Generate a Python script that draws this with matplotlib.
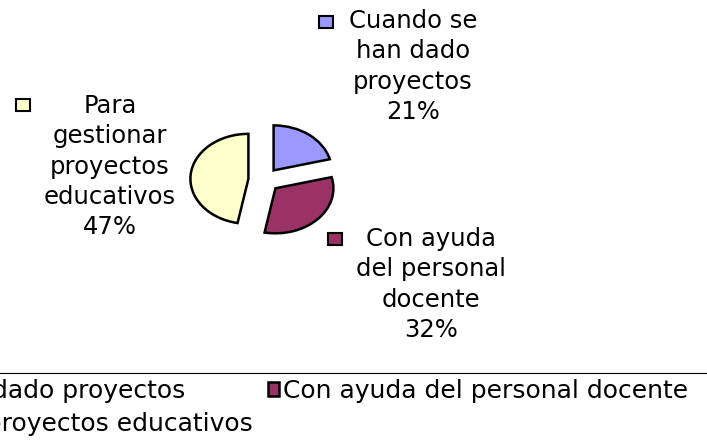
import matplotlib
matplotlib.use('Agg')
import matplotlib.pyplot as plt
from matplotlib.patches import Rectangle
from matplotlib.lines import Line2D

categorias = ["Cuando se han dado proyectos",
              "Con ayuda del personal docente",
              "Para gestionar proyectos educativos"]
etiquetas = ["Cuando se\nhan dado\nproyectos",
             "Con ayuda\ndel personal\ndocente",
             "Para\ngestionar\nproyectos\neducativos"]
porcentajes = [21, 32, 47]
colores = ["#9999FF", "#993366", "#FFFFCC"]

W, H = 707, 446
plt.rcParams['font.family'] = ['DejaVu Sans']

fig = plt.figure(figsize=(W / 100, H / 100), dpi=100)
ax = fig.add_axes([0, 0, 1, 1])
wedges, _ = ax.pie(porcentajes, colors=colores, explode=[0.27] * 3,
                   startangle=90, counterclock=False,
                   wedgeprops=dict(edgecolor='black', linewidth=1.8))

# el original esta estirado en horizontal: radio 58 px de ancho, 45 px de alto
cx, cy, rx, ry = 264, 180, 58, 45
ax.set_aspect('auto')
ax.set_xlim(-cx / rx, (W - cx) / rx)
ax.set_ylim(-(H - cy) / ry, cy / ry)
ax.axis('off')


def px(x, y):
    return x / W, 1 - y / H


# (centro texto x, borde superior y, centro cuadro x, centro cuadro y)
pos_etiquetas = [(413, 9, 326, 21.5), (431, 227, 335, 238.5), (110, 94, 23, 105)]
for etq, pct, col, (tx, ty, sx, sy) in zip(etiquetas, porcentajes, colores, pos_etiquetas):
    fig.text(*px(tx, ty), f"{etq}\n{pct}%", ha='center', va='top',
             multialignment='center', fontsize=17.5, linespacing=1.33)
    fig.add_artist(Rectangle(px(sx - 7, sy + 6), 14 / W, 12 / H,
                             transform=fig.transFigure, facecolor=col,
                             edgecolor='black', lw=1.5))

# leyenda inferior (cortada por los bordes, como en el original)
y_leg = 1 - 373 / H
orden = [0, 2, 1]
leg = fig.legend([wedges[i] for i in orden], [categorias[i] for i in orden],
                 ncol=2, loc='upper left', bbox_to_anchor=(0, y_leg),
                 borderaxespad=0, borderpad=0.25, frameon=False, fontsize=18,
                 handlelength=0.47, handleheight=0.47, handletextpad=0.15,
                 columnspacing=0.6, labelspacing=0.37)
fig.canvas.draw()
bb = leg.get_texts()[2].get_window_extent()
dx = 283 - bb.x0
leg.set_bbox_to_anchor((dx / W, y_leg), transform=fig.transFigure)
fig.add_artist(Line2D([0, 1], [y_leg, y_leg], transform=fig.transFigure,
                      color='black', lw=0.8))

fig.savefig('out.png', dpi=100)
